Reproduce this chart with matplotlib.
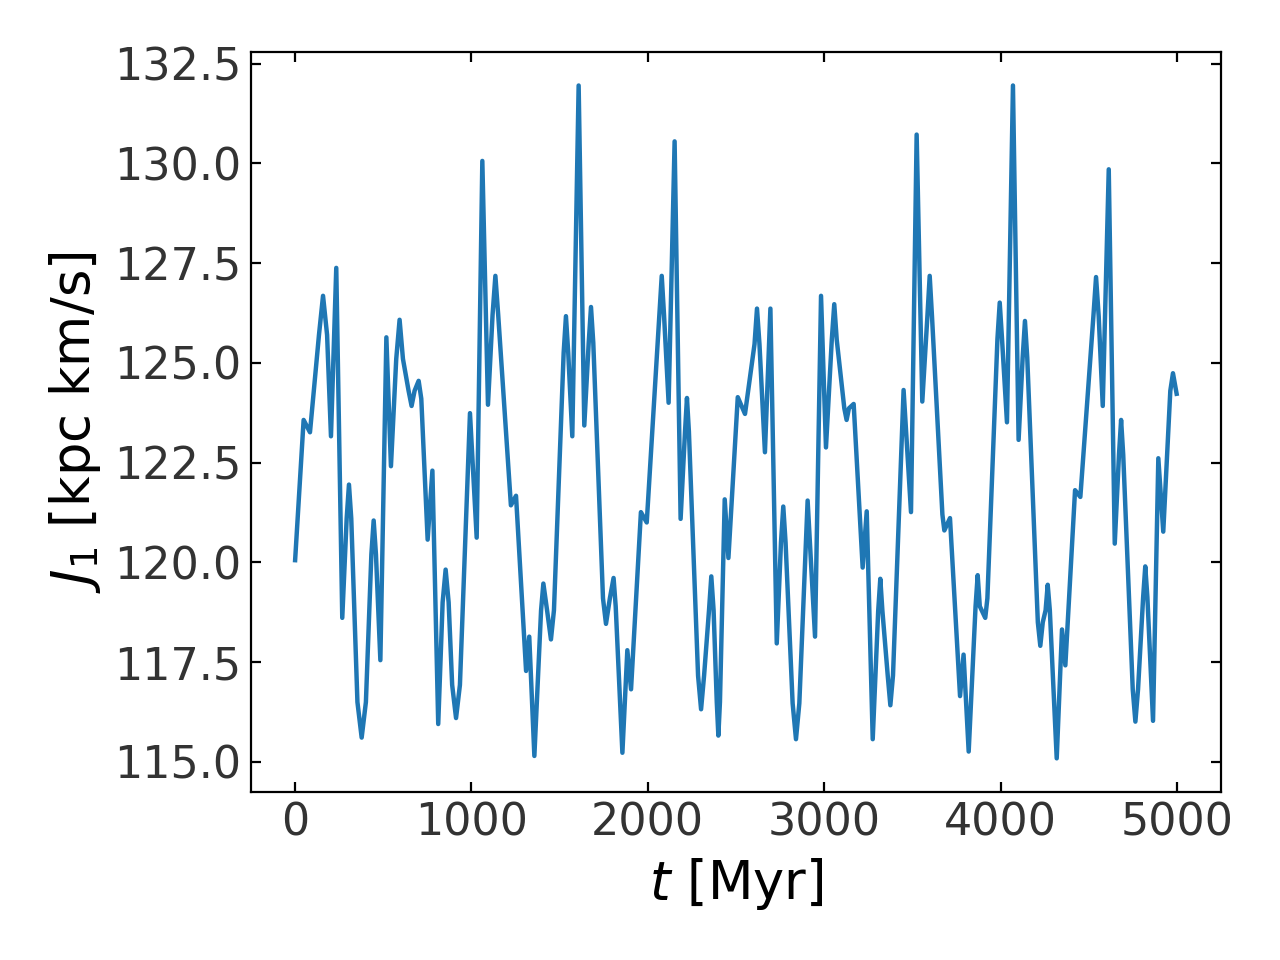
import numpy as np
import matplotlib
matplotlib.use("Agg")
import matplotlib.pyplot as plt

# turning points: time [Myr] and J_1 [kpc km/s]
t_turn = [0, 49, 85, 159, 204, 234, 268, 306, 378, 446, 484, 518, 544, 593,
          661, 701, 752, 779, 812, 854, 913, 992, 1030, 1062, 1094, 1136,
          1224, 1253, 1310, 1328, 1357, 1408, 1451, 1536, 1572, 1608, 1640,
          1678, 1763, 1806, 1856, 1884, 1905, 1961, 1994, 2079, 2118, 2152,
          2186, 2222, 2302, 2360, 2400, 2436, 2457, 2510, 2551, 2619, 2664,
          2695, 2731, 2768, 2840, 2906, 2948, 2982, 3010, 3057, 3127, 3167,
          3218, 3241, 3275, 3318, 3375, 3450, 3492, 3524, 3556, 3598, 3681,
          3713, 3770, 3790, 3819, 3870, 3913, 3995, 4036, 4070, 4102, 4138,
          4225, 4267, 4318, 4348, 4367, 4422, 4452, 4541, 4579, 4613, 4647,
          4683, 4764, 4820, 4864, 4894, 4922, 4977, 5000]
J_turn = [120.0, 123.57, 123.26, 126.68, 123.16, 127.38, 118.61, 121.95, 115.61,
          121.05, 117.55, 125.64, 122.41, 126.08, 123.92, 124.55, 120.57, 122.3,
          115.95, 119.82, 116.1, 123.74, 120.62, 130.06, 123.95, 127.18, 121.43,
          121.67, 117.28, 118.14, 115.15, 119.47, 118.07, 126.17, 123.16, 131.95,
          123.43, 126.4, 118.46, 119.61, 115.23, 117.8, 116.82, 121.26, 121.0,
          127.18, 124.0, 130.55, 121.09, 124.12, 116.32, 119.65, 115.66, 121.58,
          120.11, 124.14, 123.72, 126.36, 122.76, 126.36, 117.97, 121.4, 115.57,
          121.55, 118.14, 126.68, 122.88, 126.47, 123.57, 123.97, 119.87, 121.28,
          115.57, 119.59, 116.42, 124.32, 121.26, 130.72, 124.03, 127.18, 120.8,
          121.11, 116.65, 117.69, 115.26, 119.68, 118.61, 126.51, 123.51, 131.95,
          123.07, 126.05, 117.91, 119.44, 115.09, 118.32, 117.42, 121.81, 121.64,
          127.15, 123.92, 129.85, 120.47, 123.57, 116.01, 119.9, 116.03, 122.61,
          120.77, 124.74, 124.17]

# extra points read on the rounded tops and bottoms
t_shoulder = [136, 182, 293, 319, 354, 402, 433, 459, 574, 612, 644, 678, 716,
              837, 871, 891, 935, 1120, 1152, 1395, 1429, 1468, 1523, 1549,
              1665, 1691, 1746, 1785, 1818, 2066, 2092, 2211, 2233, 2285, 2319,
              2347, 2373, 2391, 2409, 2605, 2633, 2755, 2781, 2821, 2859, 3043,
              3071, 3114, 3140, 3306, 3330, 3360, 3390, 3585, 3611, 3670, 3858,
              3882, 3925, 3982, 4008, 4125, 4151, 4211, 4239, 4255, 4279, 4526,
              4556, 4671, 4695, 4749, 4779, 4808, 4832, 4962]
J_shoulder = [125.7, 125.7, 121.1, 121.1, 116.5, 116.5, 120.2, 120.2, 125.1,
              125.1, 124.3, 124.3, 124.1, 119.0, 119.0, 116.93, 116.93, 126.2,
              126.2, 118.8, 118.8, 118.8, 125.25, 125.25, 125.5, 125.5, 119.1,
              119.1, 118.9, 126.2, 126.2, 123.28, 123.28, 117.16, 117.16, 118.8,
              118.8, 116.5, 116.5, 125.47, 125.47, 120.5, 120.5, 116.47, 116.47,
              125.58, 125.58, 123.86, 123.86, 118.78, 118.78, 117.17, 117.17,
              126.17, 126.17, 121.2, 118.9, 118.9, 119.1, 125.6, 125.6, 125.13,
              125.13, 118.5, 118.5, 118.8, 118.8, 126.17, 126.17, 122.7, 122.7,
              116.82, 116.82, 119.13, 119.13, 124.3]

t_all = np.array(t_turn + t_shoulder, dtype=float)
J_all = np.array(J_turn + J_shoulder)
order = np.argsort(t_all, kind="stable")

fig, ax = plt.subplots(figsize=(6.4, 4.8), dpi=200)
fig.subplots_adjust(left=0.196, right=0.954, top=0.946, bottom=0.175)

ax.plot(t_all[order], J_all[order], color="#1f77b4", lw=1.6,
        solid_joinstyle="round", solid_capstyle="butt")

ax.tick_params(direction="in", top=True, right=True, labelsize=16,
               labelcolor="#333333", length=3.5, width=0.8)
ax.set_xlabel("$t$ [Myr]", fontsize=19)
ax.set_ylabel("$J_1$ [kpc km/s]", fontsize=19)

fig.savefig("out.png", dpi=200)
